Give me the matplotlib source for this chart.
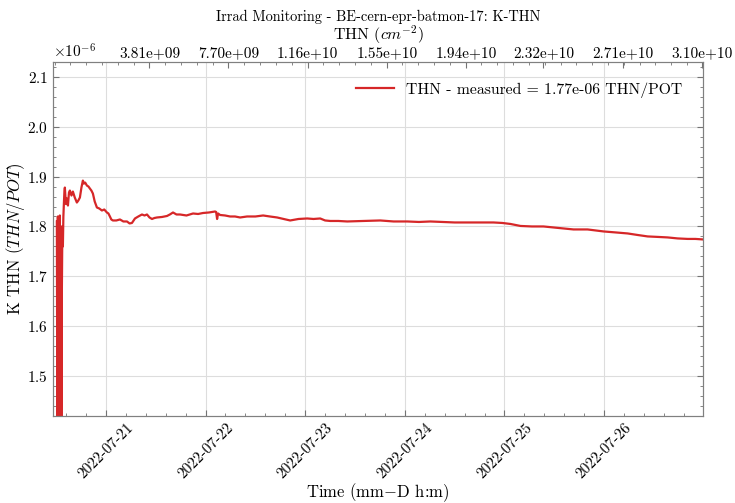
import numpy as np
import pandas as pd
import matplotlib
matplotlib.use('Agg')
import matplotlib.pyplot as plt
import matplotlib.dates as mdates
from matplotlib.ticker import AutoMinorLocator, FixedLocator, FixedFormatter

plt.rcParams['font.family'] = 'serif'
plt.rcParams['font.serif'] = ['cmr10', 'DejaVu Serif']
plt.rcParams['mathtext.fontset'] = 'cm'
plt.rcParams['axes.formatter.use_mathtext'] = True
plt.rcParams['axes.unicode_minus'] = False
plt.rcParams['font.size'] = 11

# K-THN readings: hours since 2022-07-20 00:00 and value in units of 1e-6 THN/POT
hours = [12.18, 12.30, 12.42, 12.55, 12.66, 12.78, 12.90, 13.02, 13.15, 13.27,
         13.39, 13.51, 13.63, 13.75, 13.87, 14.00, 14.11, 14.35, 14.59, 14.85,
         15.10, 15.32, 15.70, 16.04, 16.50, 17.00, 17.35, 17.73, 18.10, 18.45,
         18.70, 19.00, 19.42, 19.80, 20.14, 20.50, 20.86, 21.30, 21.83, 22.40,
         23.04, 23.60, 24.24, 24.60, 24.96, 25.30, 25.69, 26.50, 27.38, 28.20,
         29.07, 29.70, 30.27, 31.00, 31.80, 32.68, 33.30, 33.89, 34.50, 35.10,
         35.70, 36.30, 37.50, 38.71, 39.40, 40.16, 41.00, 41.85, 43.40, 44.99,
         46.20, 47.40, 48.80, 50.29, 50.55, 50.78, 51.02, 51.50, 52.70, 53.91,
         55.10, 56.32, 58.00, 60.00, 61.87, 63.50, 65.25, 66.80, 68.38, 70.40,
         72.48, 74.00, 75.62, 76.80, 78.03, 80.00, 82.13, 86.00, 90.09, 93.30,
         96.60, 99.40, 102.15, 108.00, 114.21, 117.34, 119.50, 121.44, 123.86, 126.60,
         129.40, 133.00, 136.64, 140.02, 143.88, 146.80, 149.66, 152.00, 154.49, 157.00,
         159.31, 161.70, 164.13, 166.00, 167.75]
k_thn = [1.810, 1.380, 1.820, 1.380, 1.815, 1.400, 1.822, 1.450, 1.800, 1.420,
         1.674, 1.800, 1.760, 1.820, 1.845, 1.870, 1.878, 1.845, 1.856, 1.842,
         1.868, 1.872, 1.862, 1.870, 1.858, 1.848, 1.852, 1.858, 1.878, 1.892,
         1.886, 1.888, 1.882, 1.880, 1.876, 1.872, 1.866, 1.850, 1.838, 1.836,
         1.832, 1.834, 1.828, 1.826, 1.820, 1.814, 1.812, 1.812, 1.814, 1.810,
         1.810, 1.806, 1.807, 1.816, 1.820, 1.824, 1.822, 1.824, 1.818, 1.815,
         1.817, 1.818, 1.819, 1.821, 1.824, 1.828, 1.824, 1.824, 1.822, 1.826,
         1.825, 1.827, 1.828, 1.830, 1.829, 1.815, 1.826, 1.823, 1.822, 1.820,
         1.820, 1.818, 1.820, 1.820, 1.822, 1.820, 1.818, 1.815, 1.812, 1.815,
         1.816, 1.815, 1.816, 1.812, 1.811, 1.811, 1.810, 1.811, 1.812, 1.810,
         1.810, 1.809, 1.810, 1.808, 1.808, 1.808, 1.807, 1.805, 1.801, 1.800,
         1.800, 1.797, 1.794, 1.794, 1.790, 1.788, 1.786, 1.783, 1.780, 1.779,
         1.778, 1.776, 1.775, 1.775, 1.774]

# cumulative THN fluence shown on the top axis (cm^-2)
fluence_ticks = [3.81e9, 7.70e9, 1.16e10, 1.55e10, 1.94e10, 2.32e10, 2.71e10, 3.10e10]
fluence_range = (-0.936e9, 3.105e10)

t0 = pd.Timestamp('2022-07-20 00:00')
times = t0 + pd.to_timedelta(hours, unit='h')
values = np.array(k_thn) * 1e-6

fig = plt.figure(figsize=(7.35, 5.03), dpi=100)
ax = fig.add_axes([0.0721, 0.173, 0.8844, 0.704])

ax.plot(times, values, color='#d62728', lw=1.6,
        label='THN - measured = %.2e THN/POT' % values[-1])

ax.set_xlim(pd.Timestamp('2022-07-20 11:15'), pd.Timestamp('2022-07-26 23:50'))
ax.set_ylim(1.42e-6, 2.13e-6)
ax.xaxis.set_major_locator(mdates.DayLocator())
ax.xaxis.set_major_formatter(mdates.DateFormatter('%Y-%m-%d'))
ax.xaxis.set_minor_locator(AutoMinorLocator(5))
ax.yaxis.set_minor_locator(AutoMinorLocator(5))
ax.tick_params(axis='both', which='both', direction='in', colors='0.45', labelcolor='black')
ax.tick_params(axis='y', which='both', right=True)
ax.tick_params(which='major', length=4)
ax.tick_params(which='minor', length=2)
plt.setp(ax.get_xticklabels(), rotation=45, ha='center')
ax.grid(True, color='#dddddd', lw=0.8)
for s in ax.spines.values():
    s.set_color('0.5')

ax.set_xlabel('Time (mm$-$D h:m)', labelpad=0, fontsize=12)
ax.set_ylabel('K THN ($THN/POT$)', fontsize=12, labelpad=0)
ax.legend(loc='upper right', frameon=False, handlelength=2.4, fontsize=11.3,
          borderaxespad=0.9)

# top axis with fluence
ax2 = ax.twiny()
ax2.set_xlim(*fluence_range)
ax2.xaxis.set_major_locator(FixedLocator(fluence_ticks))
ax2.xaxis.set_major_formatter(FixedFormatter(['%.2e' % f for f in fluence_ticks]))
ax2.xaxis.set_minor_locator(AutoMinorLocator(5))
ax2.tick_params(axis='x', which='both', direction='in', colors='0.45', labelcolor='black',
                pad=1.5)
ax2.tick_params(which='major', length=4)
ax2.tick_params(which='minor', length=2)
ax2.set_xlabel('THN ($cm^{-2}$)', labelpad=4.5, fontsize=11.5)
ax2.set_title('Irrad Monitoring - BE-cern-epr-batmon-17: K-THN', pad=1, fontsize=10.4)
for s in ax2.spines.values():
    s.set_color('0.5')

fig.savefig('out.png', dpi=100)
